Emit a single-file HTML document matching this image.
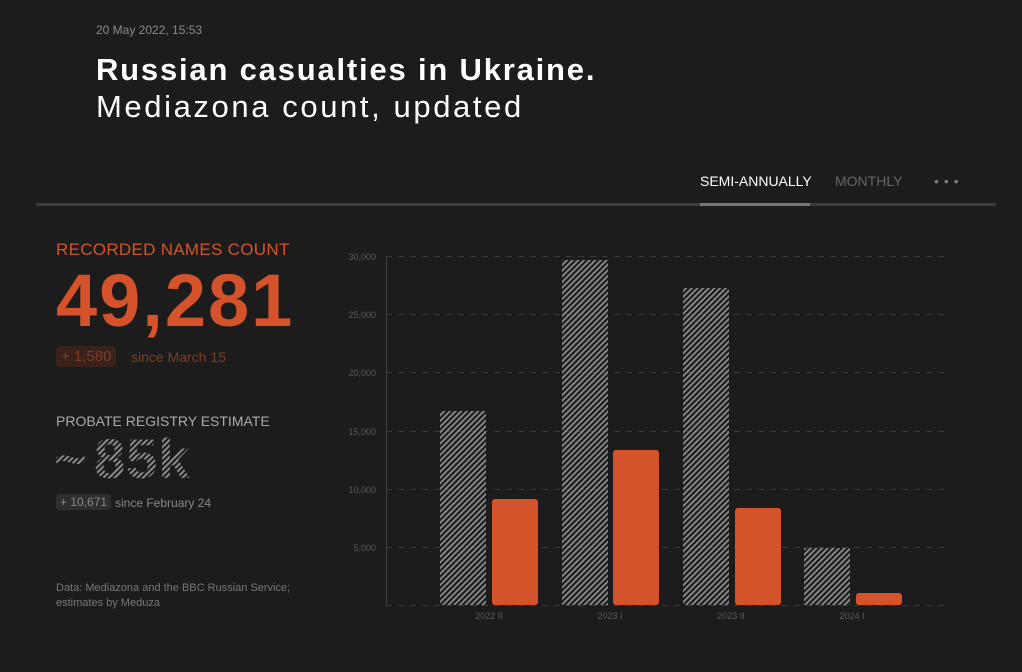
<!DOCTYPE html>
<html><head><meta charset="utf-8"><style>
body{margin:0;width:1022px;height:672px;background:#1c1c1c;font-family:"Liberation Sans",sans-serif;position:relative;overflow:hidden}
.a{position:absolute;white-space:nowrap}
</style></head><body>
<div class="a" style="left:96px;top:23px;font-size:12px;color:#8a8a8a">20 May 2022, 15:53</div>
<div class="a" style="left:96px;top:52px;font-size:31px;font-weight:bold;color:#fff;letter-spacing:1.8px">Russian casualties in Ukraine.</div>
<div class="a" style="left:96px;top:89px;font-size:31px;color:#fff;letter-spacing:2.6px">Mediazona count, updated</div>
<div class="a" style="left:700px;top:173px;font-size:14px;color:#fff">SEMI-ANNUALLY</div>
<div class="a" style="left:835px;top:173px;font-size:14px;color:#666">MONTHLY</div>
<div class="a" style="left:934px;top:173px;font-size:14px;color:#777;letter-spacing:5px">•••</div>
<div class="a" style="left:36px;top:203px;width:960px;height:3px;background:#3c3c3c"></div>
<div class="a" style="left:700px;top:203px;width:110px;height:3px;background:#777"></div>
<div class="a" style="left:56px;top:240px;font-size:17px;color:#d4532a;letter-spacing:0.3px">RECORDED NAMES COUNT</div>
<div class="a" style="left:56px;top:258px;font-size:74px;font-weight:bold;color:#d4532a;letter-spacing:2px">49,281</div>
<div class="a" style="left:56px;top:346px;padding:2px 5px;border-radius:3px;background:#3a2119;font-size:15px;color:#7d3e27">+ 1,580</div>
<div class="a" style="left:131px;top:349px;font-size:14px;color:#7d3e27">since March 15</div>
<div class="a" style="left:56px;top:413px;font-size:14px;color:#aaa">PROBATE REGISTRY ESTIMATE</div>
<svg class="a" style="left:50px;top:428px" width="170" height="62"><defs><pattern id="t" width="4" height="4" patternUnits="userSpaceOnUse" patternTransform="rotate(45)"><rect width="2" height="4" fill="#8a8a8a"/></pattern></defs><text x="4" y="50" font-family="Liberation Sans" font-weight="bold" font-size="56" fill="url(#t)" letter-spacing="1">~</text><text x="44" y="50" font-family="Liberation Sans" font-weight="bold" font-size="56" fill="url(#t)" letter-spacing="1">85k</text></svg>
<div class="a" style="left:56px;top:494px;padding:1px 4px;border-radius:3px;background:#2e2e2e;font-size:12px;color:#888">+ 10,671</div>
<div class="a" style="left:115px;top:496px;font-size:12px;color:#888">since February 24</div>
<div class="a" style="left:56px;top:581px;font-size:11px;color:#777;line-height:15px">Data: Mediazona and the BBC Russian Service;<br>estimates by Meduza</div>
<svg class="a" style="left:0;top:0" width="1022" height="672">
<defs><pattern id="h" width="4" height="4" patternUnits="userSpaceOnUse" patternTransform="rotate(45)"><rect width="1.8" height="4" fill="#8c8c8c"/></pattern></defs>
<g stroke="#3a3a3a" stroke-dasharray="6,6" stroke-width="1">
<line x1="386" x2="950" y1="256.5" y2="256.5"/><line x1="386" x2="950" y1="314.5" y2="314.5"/><line x1="386" x2="950" y1="372.5" y2="372.5"/><line x1="386" x2="950" y1="431.5" y2="431.5"/><line x1="386" x2="950" y1="489.5" y2="489.5"/><line x1="386" x2="950" y1="547.5" y2="547.5"/><line x1="386" x2="950" y1="605.5" y2="605.5"/></g>
<line x1="386.5" x2="386.5" y1="256" y2="606" stroke="#444"/>
<g font-size="9" fill="#5a5a5a" text-anchor="end" font-family="Liberation Sans"><text x="376" y="260">30,000</text><text x="376" y="318">25,000</text><text x="376" y="376">20,000</text><text x="376" y="435">15,000</text><text x="376" y="493">10,000</text><text x="376" y="551">5,000</text></g>
<g fill="url(#h)"><rect x="440" y="411" width="46" height="194"/><rect x="562" y="260" width="46" height="345"/><rect x="683" y="288" width="46" height="317"/><rect x="804" y="548" width="46" height="57"/></g>
<g fill="#d4532a"><rect x="492" y="499" width="46" height="106" rx="3"/><rect x="613" y="450" width="46" height="155" rx="3"/><rect x="735" y="508" width="46" height="97" rx="3"/><rect x="856" y="593" width="46" height="12" rx="3"/></g>
<g font-size="9" fill="#5a5a5a" text-anchor="middle" font-family="Liberation Sans"><text x="489" y="619">2022 II</text><text x="610" y="619">2023 I</text><text x="731" y="619">2023 II</text><text x="852" y="619">2024 I</text></g>
</svg>
</body></html>
